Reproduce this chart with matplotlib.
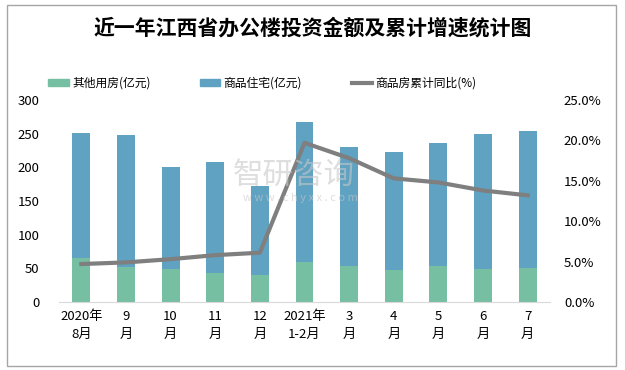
import matplotlib
matplotlib.use("Agg")
import numpy as np
import matplotlib.pyplot as plt
from matplotlib.patches import Rectangle
from matplotlib.lines import Line2D

plt.rcParams['font.family'] = ['Noto Sans CJK SC', 'DejaVu Sans']

# ---- data ----
months = ["2020年\n8月", "9\n月", "10\n月", "11\n月", "12\n月", "2021年\n1-2月",
          "3\n月", "4\n月", "5\n月", "6\n月", "7\n月"]
other_use = [65, 52, 49, 43, 40, 60, 53, 47, 53, 49, 50]          # 其他用房 (亿元)
total = [251, 248, 200, 208, 172, 267, 230, 223, 236, 250, 254]   # bar top
housing = [t - o for t, o in zip(total, other_use)]               # 商品住宅 (亿元)
growth = [4.7, 4.9, 5.3, 5.8, 6.1, 19.7, 17.8, 15.3, 14.8, 13.8, 13.2]  # %

GREEN = "#76BFA3"
BLUE = "#5FA2C2"
GRAY = "#7F7F7F"

fig = plt.figure(figsize=(6.25, 3.7), dpi=100)
ax = fig.add_axes([0.0944, 0.1838, 0.7856, 0.5459])
x = np.arange(len(months))

ax.bar(x, other_use, width=0.4, color=GREEN, zorder=2)
ax.bar(x, housing, width=0.4, bottom=other_use, color=BLUE, zorder=2)
ax.set_xlim(-0.5, len(months) - 0.5)
ax.set_ylim(0, 300)
ax.set_yticks(range(0, 301, 50))
ax.set_xticks(x)
ax.set_xticklabels(months, fontsize=9.5, linespacing=1.5)
ax.tick_params(axis="both", length=0, labelsize=9.5)
ax.tick_params(axis="y", pad=14)
ax.tick_params(axis="x", pad=6)
for s in ["top", "left", "right"]:
    ax.spines[s].set_visible(False)
ax.spines["bottom"].set_color("#D9D9D9")

ax2 = ax.twinx()
ax2.plot(x, growth, color=GRAY, lw=3, zorder=3, solid_joinstyle="round")
ax2.set_ylim(0, 25)
ax2.set_yticks(np.arange(0, 26, 5))
ax2.set_yticklabels([f"{v:.1f}%" for v in np.arange(0, 26, 5)])
ax2.tick_params(axis="y", length=0, labelsize=9.5, pad=10)
for s in ["top", "left", "right", "bottom"]:
    ax2.spines[s].set_visible(False)

# title
fig.text(0.5, 0.925, "近一年江西省办公楼投资金额及累计增速统计图",
         ha="center", va="center", fontsize=15, fontweight="bold")

# legend
handles = [Rectangle((0, 0), 1, 1, color=GREEN),
           Rectangle((0, 0), 1, 1, color=BLUE),
           Line2D([0], [0], color=GRAY, lw=3)]
labels = ["其他用房(亿元)", "商品住宅(亿元)", "商品房累计同比(%)"]
fig.legend(handles, labels, loc="center", bbox_to_anchor=(0.42, 0.775), ncol=3,
           frameon=False, fontsize=8.5, columnspacing=4.2, handlelength=1.7,
           handleheight=0.5, handletextpad=0.3)

# watermark
fig.text(0.47, 0.525, "智研咨询", ha="center", va="center", fontsize=22,
         color="#C8C8C8", alpha=0.6, zorder=5)
fig.text(0.48, 0.465, "w w w . c h y x x . c o m", ha="center", va="center",
         fontsize=8, color="#C8C8C8", alpha=0.6, zorder=5)

# outer frame
fig.patches.append(Rectangle((0.011, 0.012), 0.975, 0.975, transform=fig.transFigure,
                             fill=False, edgecolor="#A6A6A6", lw=1))

fig.savefig("out.png", dpi=100)
